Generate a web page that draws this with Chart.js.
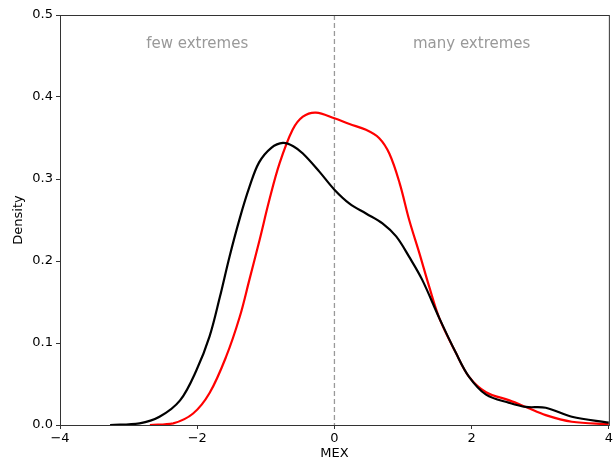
<!DOCTYPE html>
<html>
<head>
<meta charset="utf-8">
<script src="https://cdn.jsdelivr.net/npm/chart.js@4"></script>
<style>
  html, body { margin: 0; padding: 0; background: #fff; }
  #wrap { width: 615px; height: 461px; }
</style>
</head>
<body>
<div id="wrap"><canvas id="density-chart"></canvas></div>
<script>
'use strict';

// data //
let blackX = [-3.27, -2.84, -2.55, -2.25, -2.01, -1.82, -1.67, -1.53, -1.38, -1.24, -1.1, -0.92, -0.75, -0.6, -0.46, -0.22, 0, 0.22, 0.46, 0.70, 0.90, 1.09, 1.28, 1.53, 1.77, 1.96, 2.21, 2.55, 2.79, 3.08, 3.46, 4.0];
let blackY = [0, 0.002, 0.010, 0.030, 0.067, 0.108, 0.156, 0.205, 0.252, 0.290, 0.320, 0.338, 0.344, 0.340, 0.331, 0.309, 0.287, 0.270, 0.258, 0.246, 0.230, 0.205, 0.177, 0.130, 0.088, 0.059, 0.037, 0.027, 0.022, 0.021, 0.010, 0.003];

let redX = [-2.69, -2.35, -2.06, -1.82, -1.58, -1.38, -1.24, -1.09, -0.95, -0.80, -0.61, -0.46, -0.27, 0, 0.22, 0.46, 0.65, 0.80, 0.95, 1.09, 1.24, 1.38, 1.53, 1.77, 1.96, 2.21, 2.55, 2.79, 3.08, 3.46, 4.0];
let redY = [0, 0.002, 0.014, 0.039, 0.083, 0.132, 0.177, 0.226, 0.274, 0.319, 0.360, 0.376, 0.381, 0.374, 0.367, 0.360, 0.350, 0.331, 0.295, 0.250, 0.209, 0.169, 0.130, 0.088, 0.059, 0.040, 0.030, 0.022, 0.012, 0.004, 0.001];

let xTicks = [-4, -2, 0, 2, 4];
let yTicks = [0, 0.1, 0.2, 0.3, 0.4, 0.5];
let regionLabels = ['few extremes', 'many extremes'];

// helpers //
function toPoints(xs, ys) {
  let pts = [];
  for (let i = 0; i < xs.length; i++) {
    pts.push({ x: xs[i], y: ys[i] });
  }
  return pts;
}

let tickFont = { family: 'DejaVu Sans', size: 13 };

// frame, dashed zero line and the two region texts
let extrasPlugin = {
  id: 'extras',
  beforeDatasetsDraw(chart) {
    let c = chart.ctx;
    let area = chart.chartArea;
    let x0 = chart.scales.x.getPixelForValue(0);
    c.save();
    c.strokeStyle = '#999';
    c.lineWidth = 1.3;
    c.setLineDash([5, 3]);
    c.beginPath();
    c.moveTo(x0, area.top);
    c.lineTo(x0, area.bottom);
    c.stroke();
    c.setLineDash([]);
    c.fillStyle = '#999';
    c.font = '15px "DejaVu Sans"';
    c.textAlign = 'center';
    c.textBaseline = 'middle';
    c.fillText(regionLabels[0], chart.scales.x.getPixelForValue(-2), area.top + 29);
    c.fillText(regionLabels[1], chart.scales.x.getPixelForValue(2), area.top + 29);
    c.restore();
  },
  afterDraw(chart) {
    let c = chart.ctx;
    let area = chart.chartArea;
    c.save();
    c.strokeStyle = '#333';
    c.lineWidth = 1;
    c.strokeRect(Math.round(area.left) + 0.5, Math.round(area.top) + 0.5, area.right - area.left, area.bottom - area.top);
    c.restore();
  }
};

let chartObj = {
  type: 'scatter',
  data: {
    datasets: [
      {
        label: 'black',
        data: toPoints(blackX, blackY),
        showLine: true,
        borderColor: '#000000',
        borderWidth: 2.2,
        pointRadius: 0,
        tension: 0.35
      },
      {
        label: 'red',
        data: toPoints(redX, redY),
        showLine: true,
        borderColor: '#ff0000',
        borderWidth: 2.2,
        pointRadius: 0,
        tension: 0.35
      }
    ]
  },
  options: {
    responsive: true,
    maintainAspectRatio: false,
    animation: false,
    layout: { padding: { top: 15, right: 5, left: 11, bottom: 0 } },
    plugins: {
      legend: { display: false },
      tooltip: { enabled: false }
    },
    scales: {
      x: {
        type: 'linear',
        min: -4,
        max: 4,
        afterBuildTicks(scale) {
          scale.ticks = xTicks.map(v => ({ value: v }));
        },
        afterFit(scale) { scale.height = 36; },
        ticks: {
          color: '#000',
          font: tickFont,
          padding: 2,
          maxRotation: 0,
          callback: v => String(v).replace('-', '\u2212')
        },
        grid: { drawOnChartArea: false, drawTicks: true, tickLength: 4, color: '#333' },
        border: { display: true, color: '#333' },
        title: { display: true, text: 'MEX', color: '#000', font: tickFont, padding: { top: 0, bottom: 0 } }
      },
      y: {
        type: 'linear',
        min: 0,
        max: 0.5,
        afterBuildTicks(scale) {
          scale.ticks = yTicks.map(v => ({ value: v }));
        },
        afterFit(scale) { scale.width = 49; },
        ticks: {
          color: '#000',
          font: tickFont,
          padding: 3,
          callback: v => v.toFixed(1)
        },
        grid: { drawOnChartArea: false, drawTicks: true, tickLength: 4, color: '#333' },
        border: { display: true, color: '#333' },
        title: { display: true, text: 'Density', color: '#000', font: tickFont, padding: { top: 0, bottom: 4 } }
      }
    }
  },
  plugins: [extrasPlugin]
};

new Chart(document.getElementById('density-chart'), chartObj);
</script>
</body>
</html>
